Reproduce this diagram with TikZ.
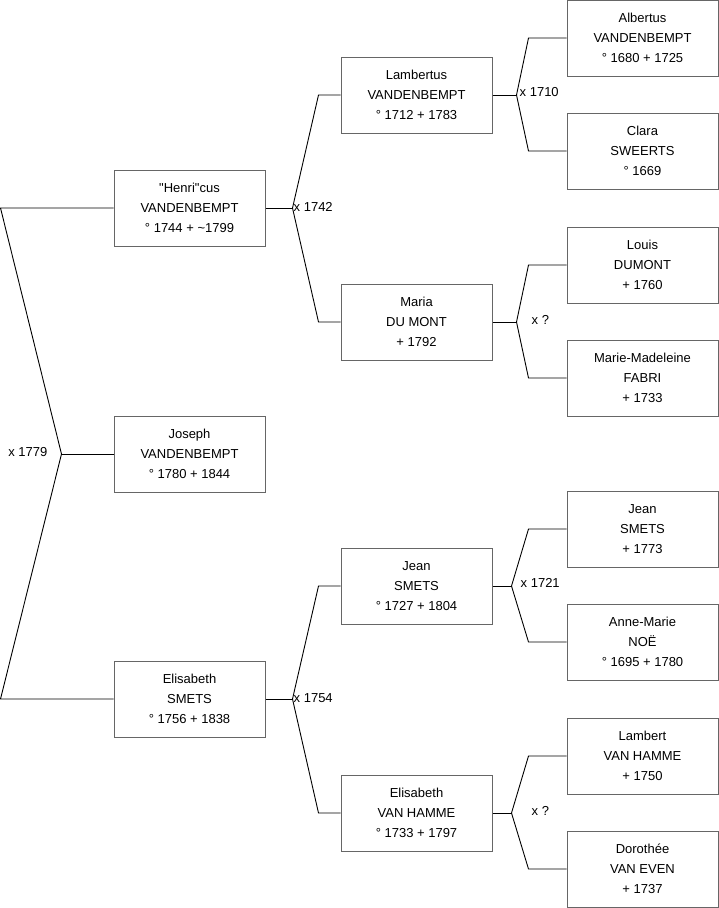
\documentclass[tikz,border=0pt]{standalone}
\usepackage{fontspec}
\setmainfont{Liberation Sans}[Ligatures=TeXOff]
\usepackage{xcolor}
\usepackage{tikz}
\usetikzlibrary{positioning,calc}

\definecolor{boxline}{HTML}{666666}

\begin{document}
\begin{tikzpicture}[
    x=1pt, y=-1pt,
    font=\fontsize{13}{20}\selectfont,
    person/.style={draw=boxline, line width=1pt, fill=white, align=center, inner sep=0pt, minimum width=151pt, minimum height=76pt},
    link/.style={draw=black, line width=0.9pt},
    marr/.style={anchor=west, inner sep=0pt}
]
\useasboundingbox (0,0) rectangle (719,908);

% generation 1 (and the child)
\node[person] (henricus) at (189.5,208) {"Henri"cus\\VANDENBEMPT\\° 1744 + \textasciitilde1799};
\node[person] (joseph) at (189.5,454) {Joseph\\VANDENBEMPT\\° 1780 + 1844};
\node[person] (elisabeth) at (189.5,699) {Elisabeth\\SMETS\\° 1756 + 1838};

% generation 2
\node[person] (lambertus) at (416.5,95) {Lambertus\\VANDENBEMPT\\° 1712 + 1783};
\node[person] (maria) at (416.5,322) {Maria\\DU MONT\\+ 1792};
\node[person] (jean) at (416.5,586) {Jean\\SMETS\\° 1727 + 1804};
\node[person] (elisabethvh) at (416.5,813) {Elisabeth\\VAN HAMME\\° 1733 + 1797};

% generation 3
\node[person] (albertus) at (642.5,38) {Albertus\\VANDENBEMPT\\° 1680 + 1725};
\node[person] (clara) at (642.5,151) {Clara\\SWEERTS\\° 1669};
\node[person] (louis) at (642.5,265) {Louis\\DUMONT\\+ 1760};
\node[person] (mariemad) at (642.5,378) {Marie-Madeleine\\FABRI\\+ 1733};
\node[person] (jeans) at (642.5,529) {Jean\\SMETS\\+ 1773};
\node[person] (annemarie) at (642.5,642) {Anne-Marie\\NOË\\° 1695 + 1780};
\node[person] (lambert) at (642.5,756) {Lambert\\VAN HAMME\\+ 1750};
\node[person] (dorothee) at (642.5,869) {Dorothée\\VAN EVEN\\+ 1737};

% marriage joints
\coordinate (m0) at ([xshift=-52pt]joseph.west);
\coordinate (m1) at ([xshift=27pt]henricus.east);
\coordinate (m2) at ([xshift=27pt]elisabeth.east);
\coordinate (m3) at ([xshift=24pt]lambertus.east);
\coordinate (m4) at ([xshift=24pt]maria.east);
\coordinate (m5) at ([xshift=19pt]jean.east);
\coordinate (m6) at ([xshift=19pt]elisabethvh.east);

% parents of Joseph
\draw[link] (henricus.west) -- ([xshift=-113pt]henricus.west) -- (m0)
    -- ([xshift=-113pt]elisabeth.west) -- (elisabeth.west);
\draw[link] (m0) -- (joseph.west);
\node[anchor=east, inner sep=0pt] (x0) at ([xshift=-14pt,yshift=2pt]m0) {x 1779};

% second generation brackets
\draw[link] (henricus.east) -- (m1);
\draw[link] (m1) -- ([xshift=-22pt]lambertus.west) -- (lambertus.west);
\draw[link] (m1) -- ([xshift=-22pt]maria.west) -- (maria.west);
\node[marr] (x1) at ([xshift=1pt,yshift=1pt]m1) {x 1742};

\draw[link] (elisabeth.east) -- (m2);
\draw[link] (m2) -- ([xshift=-22pt]jean.west) -- (jean.west);
\draw[link] (m2) -- ([xshift=-22pt]elisabethvh.west) -- (elisabethvh.west);
\node[marr] (x2) at ([xshift=1pt,yshift=1pt]m2) {x 1754};

% third generation brackets
\draw[link] (lambertus.east) -- (m3);
\draw[link] (m3) -- ([xshift=-38pt]albertus.west) -- (albertus.west);
\draw[link] (m3) -- ([xshift=-38pt]clara.west) -- (clara.west);
\node[marr] (x3) at ([xshift=3pt,yshift=3pt]m3) {x 1710};

\draw[link] (maria.east) -- (m4);
\draw[link] (m4) -- ([xshift=-38pt]louis.west) -- (louis.west);
\draw[link] (m4) -- ([xshift=-38pt]mariemad.west) -- (mariemad.west);
\node[marr] (x4) at ([xshift=15pt,yshift=2pt]m4) {x ?};

\draw[link] (jean.east) -- (m5);
\draw[link] (m5) -- ([xshift=-38pt]jeans.west) -- (jeans.west);
\draw[link] (m5) -- ([xshift=-38pt]annemarie.west) -- (annemarie.west);
\node[marr] (x5) at ([xshift=9pt,yshift=3pt]m5) {x 1721};

\draw[link] (elisabethvh.east) -- (m6);
\draw[link] (m6) -- ([xshift=-38pt]lambert.west) -- (lambert.west);
\draw[link] (m6) -- ([xshift=-38pt]dorothee.west) -- (dorothee.west);
\node[marr] (x6) at ([xshift=20pt,yshift=2pt]m6) {x ?};
\end{tikzpicture}
\end{document}
